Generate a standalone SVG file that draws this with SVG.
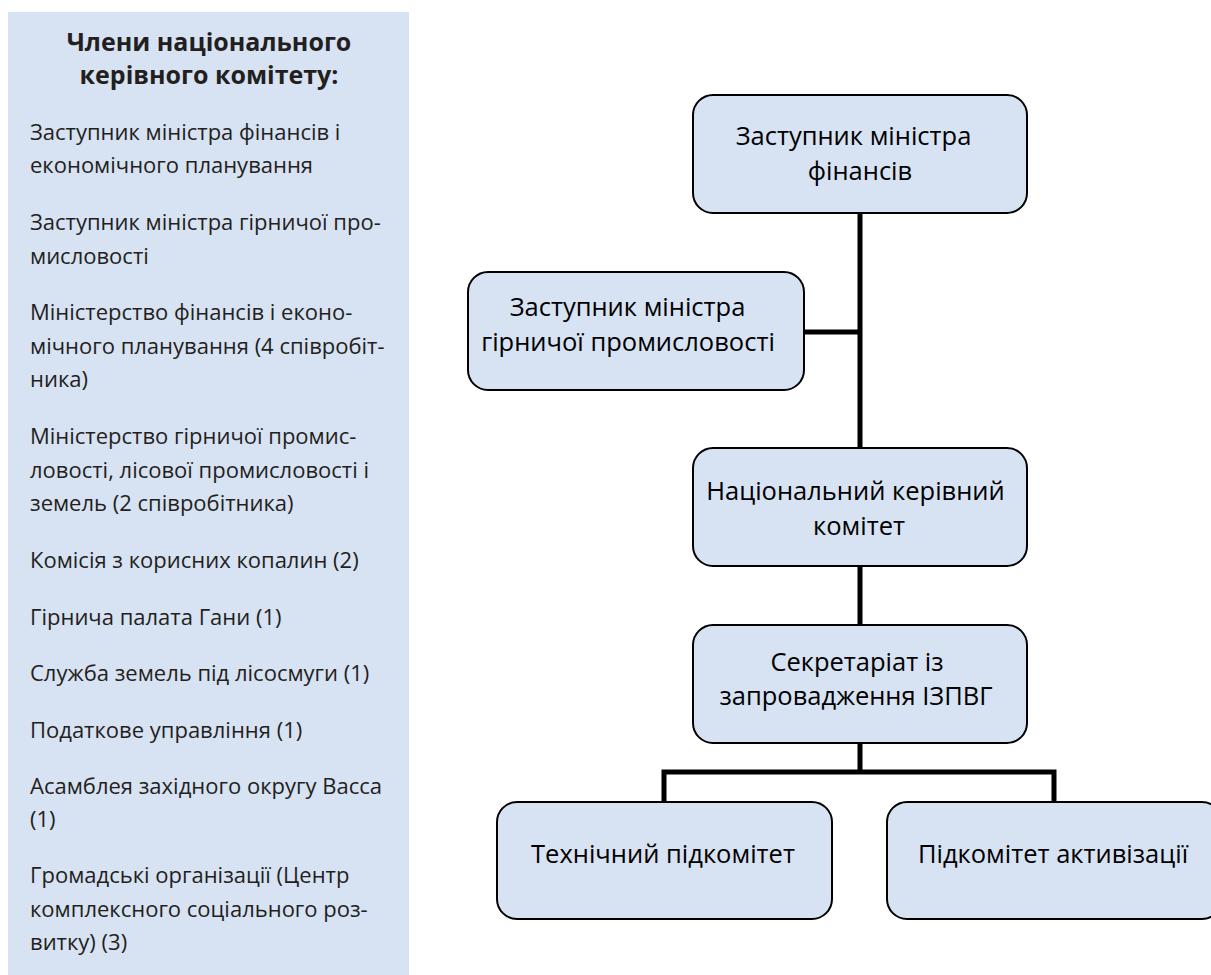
<svg xmlns="http://www.w3.org/2000/svg" width="1211" height="975" viewBox="0 0 1211 975">
<style>
.panel{fill:#d7e2f3}
.title{font-family:"Open Sans","Noto Sans","DejaVu Sans",sans-serif;font-weight:bold;font-size:25px;fill:#231f20;text-anchor:middle}
.item{font-family:"Open Sans","Noto Sans","DejaVu Sans",sans-serif;font-size:22px;fill:#231f20}
.box{fill:#d7e2f3;stroke:#000;stroke-width:2}
.lbl{font-family:"Open Sans","Noto Sans","DejaVu Sans",sans-serif;font-size:25.5px;fill:#000;text-anchor:middle}
.con{stroke:#000;stroke-width:5;fill:none}
</style>
<rect width="1211" height="975" fill="#fff"/>
<g id="members-panel">
<rect class="panel" x="8" y="12" width="401" height="963"/>
<text class="title" x="209" y="51">Члени національного</text>
<text class="title" x="209" y="84">керівного комітету:</text>
<text class="item" x="30" y="139.5">Заступник міністра фінансів і</text>
<text class="item" x="30" y="173">економічного планування</text>
<text class="item" x="30" y="230">Заступник міністра гірничої про-</text>
<text class="item" x="30" y="263.5">мисловості</text>
<text class="item" x="30" y="320">Міністерство фінансів і еконо-</text>
<text class="item" x="30" y="353.5">мічного планування (4 співробіт-</text>
<text class="item" x="30" y="387">ника)</text>
<text class="item" x="30" y="444">Міністерство гірничої промис-</text>
<text class="item" x="30" y="477.5">ловості, лісової промисловості і</text>
<text class="item" x="30" y="511">земель (2 співробітника)</text>
<text class="item" x="30" y="568">Комісія з корисних копалин (2)</text>
<text class="item" x="30" y="624.5">Гірнича палата Гани (1)</text>
<text class="item" x="30" y="681">Служба земель під лісосмуги (1)</text>
<text class="item" x="30" y="737.5">Податкове управління (1)</text>
<text class="item" x="30" y="793.5">Асамблея західного округу Васса</text>
<text class="item" x="30" y="827">(1)</text>
<text class="item" x="30" y="883">Громадські організації (Центр</text>
<text class="item" x="30" y="916.5">комплексного соціального роз-</text>
<text class="item" x="30" y="950">витку) (3)</text>
</g>
<g id="connectors">
<path class="con" d="M860 213V448M860 566V625M860 743V772M804 332H860M664 802V772H1054V802"/>
</g>
<g id="n-deputy-finance">
<rect class="box" x="693" y="95" width="334" height="118" rx="20"/>
<text class="lbl" x="853.5" y="145">Заступник міністра</text>
<text class="lbl" x="860" y="180">фінансів</text>
</g>
<g id="n-deputy-mining">
<rect class="box" x="468" y="272" width="336" height="118" rx="20"/>
<text class="lbl" x="627.5" y="316">Заступник міністра</text>
<text class="lbl" x="628" y="351">гірничої промисловості</text>
</g>
<g id="n-national-committee">
<rect class="box" x="693" y="448" width="334" height="118" rx="20"/>
<text class="lbl" x="855.5" y="500">Національний керівний</text>
<text class="lbl" x="859" y="535">комітет</text>
</g>
<g id="n-secretariat">
<rect class="box" x="693" y="625" width="334" height="118" rx="20"/>
<text class="lbl" x="857" y="671">Секретаріат із</text>
<text class="lbl" x="856" y="705">запровадження ІЗПВГ</text>
</g>
<g id="n-technical">
<rect class="box" x="497" y="802" width="335" height="117" rx="20"/>
<text class="lbl" x="663" y="863">Технічний підкомітет</text>
</g>
<g id="n-activation">
<rect class="box" x="887" y="802" width="335" height="117" rx="20"/>
<text class="lbl" x="1053" y="863">Підкомітет активізації</text>
</g>
</svg>
